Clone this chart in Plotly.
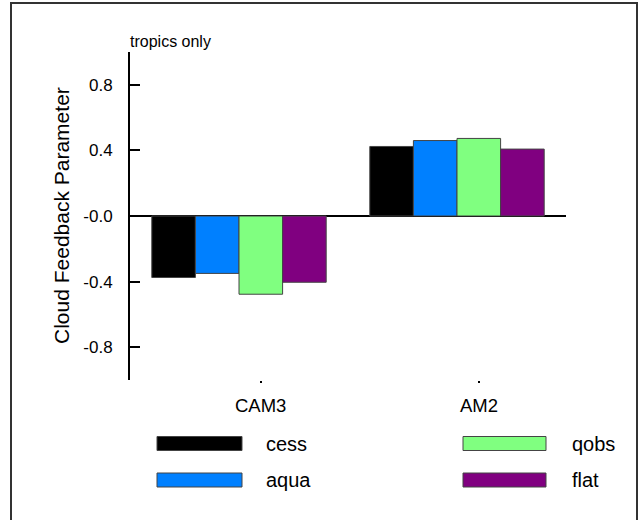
import plotly.graph_objects as go

categories = ["CAM3", "AM2"]
cat_pos = [0, 1]
series_names = ["cess", "aqua", "qobs", "flat"]
series_colors = ["#000000", "#0080FF", "#80FF80", "#800080"]
cess = [-0.375, 0.424]
aqua = [-0.35, 0.46]
qobs = [-0.477, 0.473]
flat = [-0.404, 0.408]
series_values = [cess, aqua, qobs, flat]
ytick_vals = [-0.8, -0.4, 0.0, 0.4, 0.8]
ytick_text = ["-0.8", "-0.4", "-0.0", "0.4", "0.8"]

W, H = 642, 520
L, R, T, B = 130, 76, 52, 140
PW, PH = W - L - R, H - T - B
FONT = "Liberation Sans, Arial, Helvetica, sans-serif"


def px(x):
    return (x - L) / PW


def py(y):
    return (H - B - y) / PH


fig = go.Figure()
for name, color, vals in zip(series_names, series_colors, series_values):
    fig.add_trace(go.Bar(
        x=cat_pos, y=vals, name=name,
        marker=dict(color=color, line=dict(color="#444444", width=1)),
        showlegend=False,
    ))

annotations = []
shapes = []
# category labels (offset half a bar to the right like the reference)
for c, p in zip(categories, cat_pos):
    annotations.append(dict(x=p + 0.1, xref="x", y=py(405), yref="paper",
                            text=c, showarrow=False, xanchor="center", yanchor="middle",
                            font=dict(size=18.5, color="black", family=FONT)))

annotations.append(dict(x=px(61), y=py(216), xref="paper", yref="paper", text="Cloud Feedback Parameter",
                        textangle=-90, showarrow=False, xanchor="center", yanchor="middle",
                        font=dict(size=21, color="black", family=FONT)))
annotations.append(dict(x=px(128), y=py(42), xref="paper", yref="paper", text="tropics only",
                        showarrow=False, xanchor="left", yanchor="middle",
                        font=dict(size=16, color="black", family=FONT)))

# legend (2x2 with wide swatches)
leg_pos = [(157, 242, 266, 443.5), (157, 242, 266, 480), (463, 546, 572, 443.5), (463, 546, 572, 480)]
for (x0, x1, tx, yc), name, color in zip(leg_pos, series_names, series_colors):
    shapes.append(dict(type="rect", xref="paper", yref="paper",
                       x0=px(x0), x1=px(x1), y0=py(yc - 7), y1=py(yc + 7),
                       fillcolor=color, line=dict(color="#444444", width=1)))
    annotations.append(dict(x=px(tx - 2), y=py(yc), xref="paper", yref="paper", text=name,
                            showarrow=False, xanchor="left", yanchor="middle",
                            font=dict(size=20, color="black", family=FONT)))

# outer frame
shapes.append(dict(type="rect", xref="paper", yref="paper",
                   x0=px(11), x1=px(637), y0=py(530), y1=py(3),
                   line=dict(color="#333333", width=2), fillcolor="rgba(0,0,0,0)"))

fig.update_layout(
    width=W, height=H,
    margin=dict(l=L, r=R, t=T, b=B),
    paper_bgcolor="white", plot_bgcolor="white",
    barmode="group", bargap=0.2, bargroupgap=0,
    font=dict(family=FONT, color="black"),
    annotations=annotations, shapes=shapes,
    xaxis=dict(range=[-0.5, 1.5], showgrid=False, zeroline=False, showline=False,
               tickvals=[p + 0.1 for p in cat_pos], ticks="outside", ticklen=2, tickwidth=2,
               tickcolor="black", showticklabels=False),
    yaxis=dict(range=[-1, 1], showgrid=False, zeroline=True, zerolinecolor="black", zerolinewidth=2,
               showline=True, linecolor="black", linewidth=2,
               tickvals=ytick_vals, ticktext=ytick_text, ticks="inside", ticklen=10, tickwidth=2,
               tickcolor="black", tickfont=dict(size=17, color="black", family=FONT),
               ticklabelstandoff=12),
)

fig.write_html("out.html", config={"displayModeBar": False},
               post_script="document.body.style.margin='0';document.body.style.overflow='hidden';")
